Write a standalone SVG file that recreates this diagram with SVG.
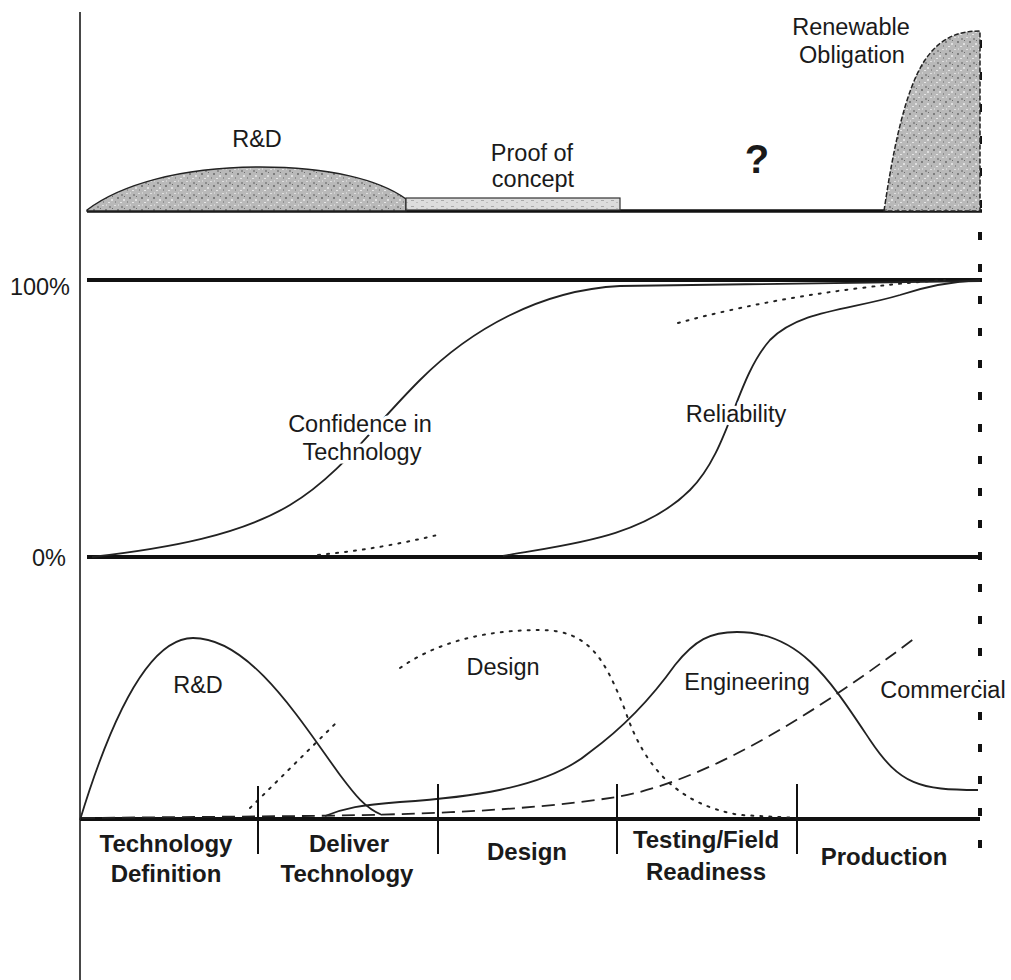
<svg xmlns="http://www.w3.org/2000/svg" width="1011" height="980" viewBox="0 0 1011 980">
<style>
  text { font-family: "Liberation Sans", Arial, sans-serif; fill: #1a1a1a; }
  .lbl { font-size: 23.5px; text-anchor: middle; paint-order: stroke; stroke: #fff; stroke-width: 7px; stroke-linejoin: round; }
  .phase { font-size: 24px; font-weight: bold; text-anchor: middle; }
  .axislbl { font-size: 23.5px; text-anchor: end; }
  .thick { stroke: #111; stroke-width: 4; fill: none; }
  .curve { stroke: #222; stroke-width: 1.8; fill: none; }
  .dot { stroke: #222; stroke-width: 2; fill: none; stroke-dasharray: 2 7; stroke-linecap: round; }
  .dash { stroke: #222; stroke-width: 1.8; fill: none; stroke-dasharray: 13 7; }
  .tick { stroke: #111; stroke-width: 2; }
</style>
<defs>
  <pattern id="stipple" width="12" height="12" patternUnits="userSpaceOnUse">
    <rect width="12" height="12" fill="#b9b9b9"/>
    <rect x="1" y="2" width="2" height="2" fill="#8c8c8c"/>
    <rect x="6" y="1" width="2" height="1" fill="#e0e0e0"/>
    <rect x="9" y="5" width="2" height="2" fill="#7d7d7d"/>
    <rect x="3" y="7" width="2" height="2" fill="#dedede"/>
    <rect x="7" y="9" width="1" height="2" fill="#909090"/>
    <rect x="0" y="10" width="2" height="1" fill="#e6e6e6"/>
    <rect x="4" y="4" width="1" height="1" fill="#6f6f6f"/>
    <rect x="10" y="0" width="1" height="2" fill="#d2d2d2"/>
  </pattern>
  <pattern id="light" width="10" height="6" patternUnits="userSpaceOnUse">
    <rect width="10" height="6" fill="#dcdcdc"/>
    <rect x="1" y="2" width="3" height="1" fill="#a8a8a8"/>
    <rect x="6" y="4" width="2" height="1" fill="#bdbdbd"/>
  </pattern>
</defs>

<g id="axes">
  <line x1="80" y1="12" x2="80" y2="980" stroke="#333" stroke-width="1.8"/>
  <line x1="87" y1="211" x2="982" y2="211" stroke="#111" stroke-width="3.5"/>
  <line x1="87" y1="280" x2="982" y2="280" class="thick"/>
  <line x1="87" y1="557" x2="982" y2="557" class="thick"/>
  <line x1="80" y1="819" x2="980" y2="819" class="thick"/>
  <line x1="980" y1="40" x2="980" y2="852" stroke="#111" stroke-width="4" stroke-dasharray="8 24"/>
  <text class="axislbl" x="70" y="295">100%</text>
  <text class="axislbl" x="66" y="566">0%</text>
</g>

<g id="funding-rd">
  <path d="M 87 210 C 120 185, 180 167, 260 167 C 330 167, 380 180, 406 199 L 406 211 L 87 211 Z" fill="url(#stipple)" stroke="#222" stroke-width="1.5"/>
  <text class="lbl" x="257" y="147">R&amp;D</text>
</g>

<g id="proof-of-concept">
  <rect x="406" y="198" width="214" height="12" fill="url(#light)" stroke="#333" stroke-width="1.2"/>
  <text class="lbl" x="532" y="161">Proof of</text>
  <text class="lbl" x="533" y="187">concept</text>
</g>

<g id="unknown">
  <text x="757" y="173" style="font-size:40px;font-weight:bold;text-anchor:middle;">?</text>
</g>

<g id="renewable-obligation">
  <path d="M 884 211 C 893 150, 905 90, 925 60 C 940 38, 958 31, 980 31 L 980 211 Z" fill="url(#stipple)" stroke="#222" stroke-width="1.5" stroke-dasharray="5 2"/>
  <text class="lbl" x="851" y="35">Renewable</text>
  <text class="lbl" x="852" y="63">Obligation</text>
</g>

<g id="connectors">
  <!-- middle chart -->
  <path id="confidence" class="curve" d="M 92 557 C 170 548, 240 535, 290 505 C 340 475, 370 430, 420 380 C 470 330, 540 290, 620 286 L 980 281"/>
  <path class="dot" d="M 318 555 Q 380 549, 437 535"/>
  <path id="reliability" class="curve" d="M 503 556 C 560 545, 640 540, 690 490 C 730 450, 735 380, 770 340 C 800 310, 850 310, 900 295 C 930 285, 960 281, 980 280"/>
  <path class="dot" d="M 678 323 Q 800 290, 945 280"/>
  <!-- bottom chart -->
  <path id="rd-curve" class="curve" d="M 80 820 C 112 715, 150 638, 193 638 C 250 638, 300 720, 340 775 C 355 795, 365 808, 382 815"/>
  <path class="dot" d="M 250 808 L 337 722"/>
  <path id="design-curve" class="dot" d="M 400 668 C 440 640, 490 630, 540 630 C 590 630, 605 660, 625 710 C 645 770, 680 805, 740 815 L 797 818"/>
  <path id="engineering-curve" class="curve" d="M 325 816 C 345 808, 360 805, 400 802 C 460 798, 545 790, 590 752 C 620 730, 650 700, 675 665 C 695 640, 710 632, 737 632 C 800 632, 830 680, 870 740 C 900 785, 920 790, 978 790"/>
  <path id="commercial-curve" class="dash" d="M 82 818 L 300 816 C 400 815, 520 812, 617 797 C 700 782, 800 725, 915 638"/>
  <!-- phase ticks -->
  <line class="tick" x1="258" y1="786" x2="258" y2="854"/>
  <line class="tick" x1="438" y1="784" x2="438" y2="854"/>
  <line class="tick" x1="617" y1="784" x2="617" y2="854"/>
  <line class="tick" x1="797" y1="784" x2="797" y2="854"/>
</g>

<g id="confidence-label">
  <text class="lbl" x="360" y="432">Confidence in</text>
  <text class="lbl" x="362" y="460">Technology</text>
</g>
<g id="reliability-label">
  <text class="lbl" x="736" y="422">Reliability</text>
</g>
<g id="rd-label"><text class="lbl" x="198" y="693">R&amp;D</text></g>
<g id="design-label"><text class="lbl" x="503" y="675">Design</text></g>
<g id="engineering-label"><text class="lbl" x="747" y="690">Engineering</text></g>
<g id="commercial-label"><text class="lbl" x="943" y="698">Commercial</text></g>

<g id="phase-technology-definition">
  <text class="phase" x="166" y="852">Technology</text>
  <text class="phase" x="166" y="882">Definition</text>
</g>
<g id="phase-deliver-technology">
  <text class="phase" x="349" y="852">Deliver</text>
  <text class="phase" x="347" y="882">Technology</text>
</g>
<g id="phase-design">
  <text class="phase" x="527" y="860">Design</text>
</g>
<g id="phase-testing">
  <text class="phase" x="706" y="848">Testing/Field</text>
  <text class="phase" x="706" y="880">Readiness</text>
</g>
<g id="phase-production">
  <text class="phase" x="884" y="865">Production</text>
</g>
</svg>
